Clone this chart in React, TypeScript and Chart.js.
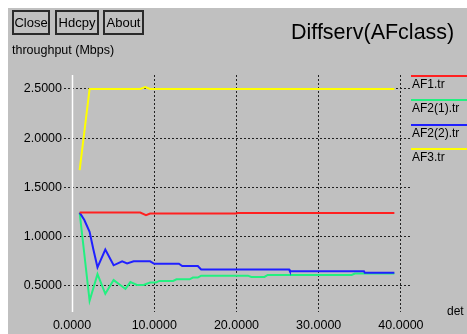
import React, { useEffect, useLayoutEffect, useRef } from "react";
import { Chart, registerables } from "chart.js";

Chart.register(...registerables);

// ---- data ----
const xTicks = [0, 10, 20, 30, 40];
const yTicks = [0.5, 1.0, 1.5, 2.0, 2.5];

const seriesNames = ["AF1.tr", "AF2(1).tr", "AF2(2).tr", "AF3.tr"];
const seriesColors = ["#ff2020", "#22f080", "#2020ff", "#ffff00"];
const seriesOrder = [0, 2, 1, 3];

const af1Time = [0.93, 8.3, 9.0, 9.5, 20.0, 20.1, 39.2];
const af1Value = [1.245, 1.245, 1.22, 1.235, 1.235, 1.242, 1.242];

const af21Time = [0.93, 2.14, 3.1, 4.05, 5.06, 5.7, 6.5, 7.1, 7.9, 8.7, 9.5, 10.2, 10.6, 12.3, 12.7, 14.3, 14.7, 15.3, 15.7, 21.4, 21.8, 23.4, 23.8, 34.0, 34.4, 39.2];
const af21Value = [1.245, 0.35, 0.62, 0.42, 0.56, 0.52, 0.47, 0.54, 0.51, 0.51, 0.535, 0.535, 0.551, 0.551, 0.568, 0.568, 0.585, 0.585, 0.605, 0.605, 0.592, 0.592, 0.612, 0.612, 0.627, 0.627];

const af22Time = [0.93, 1.5, 2.14, 2.6, 3.1, 4.05, 5.06, 6.1, 6.7, 7.5, 9.5, 10.0, 13.0, 13.4, 15.3, 15.7, 26.4, 26.5, 35.5, 35.6, 39.2];
const af22Value = [1.245, 1.17, 1.05, 0.87, 0.69, 0.87, 0.71, 0.75, 0.73, 0.75, 0.751, 0.726, 0.726, 0.703, 0.703, 0.667, 0.667, 0.649, 0.649, 0.634, 0.634];

const af3Time = [0.93, 2.14, 8.3, 8.9, 9.5, 39.2];
const af3Value = [1.676, 2.5, 2.5, 2.52, 2.5, 2.5];

const seriesTimes = [af1Time, af21Time, af22Time, af3Time];
const seriesValues = [af1Value, af21Value, af22Value, af3Value];

const FONT = '"Liberation Sans", Arial, Helvetica, sans-serif';
const GRID = "#222222";

const zeroLine = {
  id: "zeroLine",
  beforeDatasetsDraw(chart: any) {
    const { ctx, chartArea, scales } = chart;
    const x = Math.round(scales.x.getPixelForValue(0)) + 0.5;
    ctx.save();
    ctx.strokeStyle = "#ffffff";
    ctx.lineWidth = 1.5;
    ctx.beginPath();
    ctx.moveTo(x, chartArea.top);
    ctx.lineTo(x, chartArea.bottom);
    ctx.stroke();
    ctx.restore();
  },
};

export default function App() {
  const ref = useRef<HTMLCanvasElement | null>(null);

  useLayoutEffect(() => {
    document.body.style.margin = "8px 0 0 8px";
    document.documentElement.style.overflow = "hidden";
  }, []);

  useEffect(() => {
    if (!ref.current) return;
    const chart = new Chart(ref.current, {
      type: "line",
      data: {
        datasets: seriesNames.map((name, i) => ({
          label: name,
          data: seriesTimes[i].map((t, j) => ({ x: t, y: seriesValues[i][j] })),
          borderColor: seriesColors[i],
          backgroundColor: seriesColors[i],
          borderWidth: 2,
          pointRadius: 0,
          tension: 0,
          fill: false,
          order: seriesOrder[i],
        })),
      },
      options: {
        animation: false,
        responsive: false,
        maintainAspectRatio: false,
        devicePixelRatio: 1,
        layout: { padding: { top: 67, right: 57, left: 0, bottom: 0 } },
        plugins: {
          legend: { display: false },
          tooltip: { enabled: false },
          title: { display: false },
        },
        scales: {
          x: {
            type: "linear",
            min: 0,
            max: 41.1,
            afterBuildTicks: (s: any) => {
              s.ticks = xTicks.map((v) => ({ value: v }));
            },
            afterFit: (s: any) => {
              s.height = 22;
            },
            grid: {
              color: (c: any) => (c.tick && c.tick.value === 0 ? "rgba(0,0,0,0)" : GRID),
              lineWidth: 1,
              drawTicks: false,
            },
            border: { display: false, dash: [2, 2] },
            ticks: {
              color: "#000",
              font: { family: FONT, size: 12.5 },
              padding: 6,
              maxRotation: 0,
              autoSkip: false,
              callback: (v: any) => Number(v).toFixed(4),
            },
          },
          y: {
            type: "linear",
            min: 0.236,
            max: 2.642,
            afterBuildTicks: (s: any) => {
              s.ticks = yTicks.map((v) => ({ value: v }));
            },
            afterFit: (s: any) => {
              s.width = 64;
            },
            grid: {
              color: GRID,
              lineWidth: 1,
              tickLength: 8,
              tickColor: GRID,
              tickBorderDash: [2, 2],
            },
            border: { display: false, dash: [2, 2] },
            ticks: {
              color: "#000",
              font: { family: FONT, size: 12.5 },
              padding: 2,
              callback: (v: any) => Number(v).toFixed(4),
            },
          },
        },
      } as any,
      plugins: [zeroLine],
    });
    return () => chart.destroy();
  }, []);

  const btn = (label: string, left: number, width: number) => (
    <div
      key={label}
      style={{
        position: "absolute",
        left,
        top: 2,
        width,
        height: 25,
        boxSizing: "border-box",
        border: "2px solid #2a2a2a",
        display: "flex",
        alignItems: "center",
        justifyContent: "center",
        fontSize: 13,
        lineHeight: "13px",
      }}
    >
      {label}
    </div>
  );

  return (
    <div
      style={{
        position: "relative",
        width: 459,
        height: 326,
        background: "#c0c0c0",
        fontFamily: FONT,
        color: "#000",
        overflow: "hidden",
      }}
    >
      <canvas ref={ref} width={459} height={326} style={{ position: "absolute", left: 0, top: 0, display: "block" }} />
      {btn("Close", 4, 38)}
      {btn("Hdcpy", 47, 44)}
      {btn("About", 95, 41)}
      <div style={{ position: "absolute", left: 283, top: 14, fontSize: 21.5, lineHeight: "21px", whiteSpace: "nowrap" }}>
        Diffserv(AFclass)
      </div>
      <div style={{ position: "absolute", left: 4, top: 36, fontSize: 12.5, lineHeight: "13px", whiteSpace: "nowrap" }}>
        throughput (Mbps)
      </div>
      <div style={{ position: "absolute", left: 439, top: 297, fontSize: 12, lineHeight: "13px", whiteSpace: "nowrap" }}>
        det
      </div>
      {seriesNames.map((name, i) => (
        <React.Fragment key={name}>
          <div
            style={{
              position: "absolute",
              left: 403,
              top: 67 + i * 24.4,
              width: 56,
              height: 2,
              background: seriesColors[i],
            }}
          />
          <div
            style={{
              position: "absolute",
              left: 404,
              top: 70 + i * 24.4,
              fontSize: 12,
              lineHeight: "13px",
              whiteSpace: "nowrap",
            }}
          >
            {name}
          </div>
        </React.Fragment>
      ))}
    </div>
  );
}
